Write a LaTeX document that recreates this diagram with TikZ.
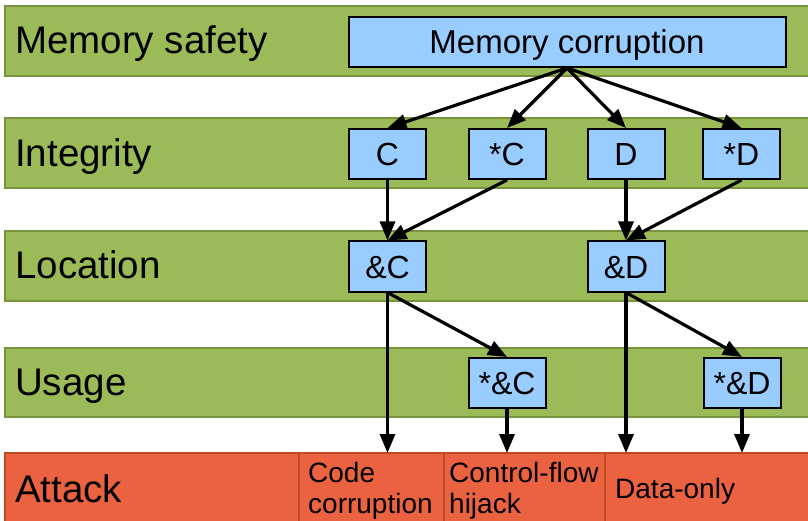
\documentclass[tikz,border=0pt]{standalone}
\usepackage{fontspec}
\setmainfont{Liberation Sans}
\usetikzlibrary{arrows.meta}
\definecolor{bandgreen}{RGB}{155,187,89}
\definecolor{bandgreenedge}{RGB}{119,147,60}
\definecolor{nodeblue}{RGB}{153,204,255}
\definecolor{attackred}{RGB}{235,98,64}
\definecolor{attackedge}{RGB}{190,75,30}
\tikzset{
  band/.style={fill=bandgreen, draw=bandgreenedge, line width=1.5pt},
  attackband/.style={fill=attackred, draw=attackedge, line width=1.5pt},
  bandlabel/.style={anchor=base west, inner sep=0pt, font=\fontsize{38.5}{40}\selectfont},
  box/.style={draw=black, line width=2pt, fill=nodeblue, minimum width=77pt, minimum height=50pt, inner sep=0pt, text height=23pt, text depth=0pt, font=\fontsize{32}{34}\selectfont},
  attacklabel/.style={anchor=base west, inner sep=0pt, font=\fontsize{28}{31}\selectfont},
  arr/.style={line width=3.2pt, -{Triangle[length=19pt,width=15pt]}},
}
\begin{document}
\begin{tikzpicture}[x=1pt,y=-1pt]
\useasboundingbox (0,0) rectangle (808,521);
% bands
\path[band] (5,6) rectangle (812,76);
\path[band] (5,118) rectangle (812,188);
\path[band] (5,231) rectangle (812,301);
\path[band] (5,348) rectangle (812,417);
\path[attackband] (5,453) rectangle (812,526);
\draw[attackedge, line width=1.5pt] (299,453) -- (299,521);
\draw[attackedge, line width=1.5pt] (444,453) -- (444,521);
\draw[attackedge, line width=1.5pt] (605,453) -- (605,521);
% band labels
\node[bandlabel] (lms) at (15,54) {Memory safety};
\node[bandlabel] (lint) at (15,167) {Integrity};
\node[bandlabel] (lloc) at (15,279) {Location};
\node[bandlabel] (luse) at (15,395) {Usage};
\node[bandlabel] (latt) at (15,502) {Attack};
% attack labels
\node[attacklabel] (acode1) at (308,482) {Code};
\node[attacklabel] (acode2) at (308,513) {corruption};
\node[attacklabel] (acf1) at (449,482) {Control-flow};
\node[attacklabel] (acf2) at (449,513) {hijack};
\node[attacklabel] (adata) at (615,498) {Data-only};
% nodes
\node[box, minimum width=437pt, text height=23.6pt, font=\fontsize{33}{35}\selectfont] (mc) at (567,42) {Memory corruption};
\node[box] (c) at (387.5,154) {C};
\node[box] (sc) at (507,154) {*C};
\node[box] (d) at (626,154) {D};
\node[box] (sd) at (741.5,154) {*D};
\node[box] (ac) at (387.5,266.5) {\&C};
\node[box] (ad) at (626,266.5) {\&D};
\node[box] (sac) at (507,383) {*\&C};
\node[box] (sad) at (742,383) {*\&D};
% targets
\coordinate (t1) at (387.5,453);
\coordinate (t2) at (507,453);
\coordinate (t3) at (626,453);
\coordinate (t4) at (742,453);
% arrows
\draw[arr] (mc.south) -- (c.north);
\draw[arr] (mc.south) -- (sc.north);
\draw[arr] (mc.south) -- (d.north);
\draw[arr] (mc.south) -- (sd.north);
\draw[arr] (c.south) -- (ac.north);
\draw[arr] (sc.south) -- (ac.north);
\draw[arr] (d.south) -- (ad.north);
\draw[arr] (sd.south) -- (ad.north);
\draw[arr] (ac.south) -- (sac.north);
\draw[arr] (ac.south) -- (t1);
\draw[arr] (ad.south) -- (sad.north);
\draw[arr] (ad.south) -- (t3);
\draw[arr] (sac.south) -- (t2);
\draw[arr] (sad.south) -- (t4);
\end{tikzpicture}
\end{document}
